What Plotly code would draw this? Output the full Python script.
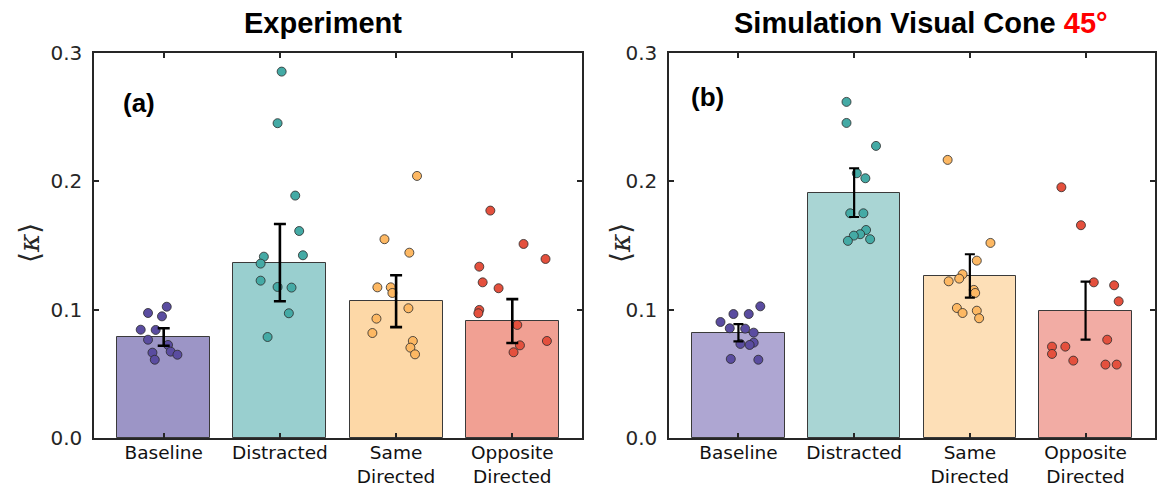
import plotly.graph_objects as go

W, H = 1157, 492

categories = ["Baseline", "Distracted", "Same<br>Directed", "Opposite<br>Directed"]
y_ticks = [0.0, 0.1, 0.2, 0.3]
y_tick_text = ["0.0", "0.1", "0.2", "0.3"]

# Panel (a) Experiment
exp_bar = [0.0787, 0.1367, 0.1066, 0.0911]
exp_err = [0.0068, 0.0301, 0.0202, 0.0171]
exp_points = [
    [0.1023, 0.0974, 0.0948, 0.0844, 0.0842, 0.0766, 0.0725, 0.0673, 0.0665, 0.0649, 0.0610],
    [0.2855, 0.2453, 0.1889, 0.1613, 0.1413, 0.1424, 0.1359, 0.1226, 0.1177, 0.1172, 0.0972, 0.0787],
    [0.2042, 0.1549, 0.1444, 0.1174, 0.1174, 0.1130, 0.1011, 0.0930, 0.0818, 0.0756, 0.0704, 0.0652],
    [0.1772, 0.1512, 0.1395, 0.1335, 0.1213, 0.1167, 0.0998, 0.0972, 0.0881, 0.0756, 0.0722, 0.0668],
]
exp_jitter = [
    [0.026, -0.135, -0.015, -0.198, -0.069, -0.135, 0.037, 0.060, -0.097, 0.118, -0.077],
    [0.015, -0.020, 0.132, 0.166, -0.138, 0.198, -0.166, -0.166, -0.020, 0.100, 0.077, -0.106],
    [0.180, -0.100, 0.114, -0.161, -0.046, -0.032, 0.106, -0.169, -0.204, 0.144, 0.123, 0.163],
    [-0.189, 0.097, 0.286, -0.284, -0.255, -0.118, -0.284, -0.292, 0.043, 0.298, 0.066, 0.011],
]

# Panel (b) Simulation
sim_bar = [0.0820, 0.1912, 0.1263, 0.0992]
sim_err = [0.0067, 0.0190, 0.0169, 0.0226]
sim_points = [
    [0.1026, 0.0966, 0.0966, 0.0904, 0.0855, 0.0852, 0.0821, 0.0743, 0.0733, 0.0725, 0.0616, 0.0610],
    [0.2619, 0.2455, 0.2276, 0.2063, 0.2024, 0.1751, 0.1751, 0.1621, 0.1588, 0.1577, 0.1549, 0.1536],
    [0.2167, 0.1520, 0.1382, 0.1276, 0.1242, 0.1221, 0.1154, 0.1130, 0.1013, 0.0992, 0.0974, 0.0933],
    [0.1954, 0.1658, 0.1213, 0.1190, 0.1065, 0.0766, 0.0712, 0.0712, 0.0655, 0.0603, 0.0572, 0.0572],
]
sim_jitter = [
    [0.189, -0.043, 0.089, -0.155, -0.075, 0.058, 0.132, 0.132, 0.017, 0.097, -0.066, 0.172],
    [-0.066, -0.066, 0.189, 0.023, 0.097, -0.034, 0.080, 0.103, 0.052, -0.003, 0.138, -0.054],
    [-0.192, 0.178, 0.060, -0.063, -0.092, -0.183, 0.034, 0.046, -0.112, 0.060, -0.063, 0.080],
    [-0.209, -0.040, 0.071, 0.247, 0.286, 0.187, -0.290, -0.175, -0.290, -0.106, 0.172, 0.269],
]

point_colors = ["#5a4ca0", "#44aaa5", "#fdb863", "#e4503d"]
exp_bar_colors = ["#9c95c6", "#99cfcf", "#fdd8a7", "#f1a093"]
sim_bar_colors = ["#aea6d2", "#a9d5d4", "#fddfb7", "#f2aca4"]

xpos = [1, 2, 3, 4]
fig = go.Figure()

def add_panel(bars, errs, points, jitter, bar_colors, xa, ya, err_w, cap):
    fig.add_trace(go.Bar(
        x=xpos, y=bars, width=0.8, marker=dict(color=bar_colors, line=dict(color="#3a3a3a", width=1)),
        xaxis=xa, yaxis=ya, showlegend=False, hoverinfo="skip"))
    for i in range(4):
        fig.add_trace(go.Scatter(
            x=[xpos[i] + j for j in jitter[i]], y=points[i], mode="markers",
            marker=dict(size=9, color=point_colors[i], line=dict(color="#2a2a2a", width=0.8)),
            xaxis=xa, yaxis=ya, showlegend=False, hoverinfo="skip"))
    fig.add_trace(go.Scatter(
        x=xpos, y=bars, mode="markers",
        marker=dict(size=1, color="rgba(0,0,0,0)"),
        error_y=dict(type="data", array=errs, color="black", thickness=err_w, width=cap),
        xaxis=xa, yaxis=ya, showlegend=False, hoverinfo="skip"))

add_panel(exp_bar, exp_err, exp_points, exp_jitter, exp_bar_colors, "x", "y", 2.6, 6)
add_panel(sim_bar, sim_err, sim_points, sim_jitter, sim_bar_colors, "x2", "y2", 2.2, 5)

ydom = [1 - 438 / H, 1 - 53 / H]
axis_common = dict(showline=True, linecolor="#262626", linewidth=1.5, mirror="ticks",
                   ticks="inside", ticklen=5, tickcolor="#262626", tickwidth=1.5,
                   showgrid=False, zeroline=False, automargin=False)
xcommon = dict(axis_common, range=[0.4, 4.6], tickvals=xpos, ticktext=categories,
               tickfont=dict(family="DejaVu Sans", size=18.5, color="#111111"), ticklabelstandoff=-3)
ycommon = dict(axis_common, range=[0, 0.3], tickvals=y_ticks, ticktext=y_tick_text,
               tickfont=dict(family="DejaVu Sans", size=20, color="#262626"), ticklabelstandoff=6)

fig.update_layout(
    width=W, height=H, margin=dict(l=0, r=0, t=0, b=0, autoexpand=False),
    plot_bgcolor="white", paper_bgcolor="white", bargap=0,
    xaxis=dict(xcommon, domain=[94 / W, 582 / W], anchor="y"),
    yaxis=dict(ycommon, domain=ydom, anchor="x"),
    xaxis2=dict(xcommon, domain=[669 / W, 1155 / W], anchor="y2"),
    yaxis2=dict(ycommon, domain=ydom, anchor="x2"),
)

def add_text(text, xc, yc, size, family="Liberation Sans", angle=0, color="black"):
    return dict(text=text, x=xc / W, y=1 - yc / H, xref="paper", yref="paper",
                xanchor="center", yanchor="middle", textangle=angle, showarrow=False,
                font=dict(family=family, size=size, color=color))

ann = [
    add_text("<b>Experiment</b>", 323, 23, 29),
    add_text("<b>Simulation Visual Cone <span style='color:#ff0000'>45°</span></b>", 921, 23, 29),
    add_text("<b>(a)</b>", 139, 103, 26),
    add_text("<b>(b)</b>", 707, 97, 26),
    add_text("⟨<i>κ</i>⟩", 29, 243, 28, family="DejaVu Serif", angle=-90, color="#262626"),
    add_text("⟨<i>κ</i>⟩", 620, 243, 28, family="DejaVu Serif", angle=-90, color="#262626"),
]
fig.update_layout(annotations=ann)

fig.write_html("out.html", config={"displayModeBar": False},
               post_script="document.body.style.margin='0px';")
